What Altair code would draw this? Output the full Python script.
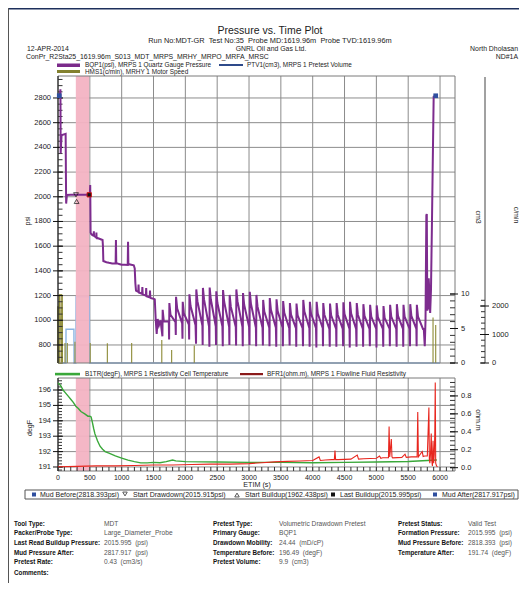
import altair as alt
import pandas as pd

W, H = 511, 575
FONT = "Liberation Sans"

# plot boxes in chart pixels (layout only)
L, R = 50, 447
TT, TB = 68, 355      # top panel
BT, BB = 370, 463     # bottom panel

# ---------------- data ----------------
# BQP1 quartz gauge pressure (psi) - first part of the test
pre_t = [0, 15, 30, 38, 42, 48, 55, 62, 120, 124, 128, 140, 200, 280, 350, 490,
         500, 506, 512, 520, 540, 560, 563, 566, 600, 603, 606, 650, 700, 706, 712, 760,
         800, 850, 905, 910, 915, 960, 1000, 1050, 1095, 1100, 1105, 1150, 1190, 1205,
         1215, 1225, 1260, 1265, 1270, 1320, 1325, 1330, 1380, 1385, 1390, 1440, 1445,
         1450, 1500, 1520, 1535, 1550, 1565, 1585, 1610]
pre_p = [2818, 2820, 2830, 2870, 2350, 2420, 2490, 2500, 2510, 2200, 1945, 2015, 2016, 2016, 2016, 2016,
         2020, 2095, 1710, 1700, 1690, 1685, 1720, 1685, 1670, 1710, 1668, 1660, 1650, 1600, 1480, 1470,
         1465, 1460, 1460, 1650, 1465, 1455, 1450, 1450, 1448, 1635, 1455, 1450, 1445, 1420,
         1300, 1240, 1230, 1290, 1225, 1215, 1270, 1210, 1200, 1260, 1195, 1185, 1240,
         1180, 1175, 1170, 1000, 890, 1010, 960, 1000]
# repeated pretest cycles: start time, minimum, peak, level before next drop
cyc_t = [1640, 1745, 1850, 1955, 2060, 2168, 2272, 2378, 2482, 2588, 2692, 2797, 2902,
         3008, 3112, 3218, 3322, 3428, 3532, 3638, 3742, 3848, 3952, 4058, 4162, 4268,
         4372, 4478, 4582, 4688, 4792, 4898, 5002, 5108, 5212, 5318, 5422, 5528, 5632]
cyc_min = [870, 845, 880, 850, 845, 810, 800, 785, 800, 790, 800, 795, 790,
           800, 790, 795, 790, 785, 790, 795, 785, 790, 785, 780, 790, 785,
           785, 790, 780, 785, 785, 790, 780, 785, 790, 785, 785, 790, 790]
cyc_peak = [1085, 1140, 1190, 1150, 1210, 1250, 1262, 1265, 1235, 1245, 1205, 1250, 1220,
            1230, 1205, 1165, 1180, 1170, 1155, 1140, 1135, 1165, 1150, 1150, 1140, 1135,
            1140, 1145, 1150, 1140, 1130, 1125, 1120, 1115, 1125, 1130, 1125, 1130, 1125]
cyc_low = [990, 985, 975, 965, 960, 955, 950, 950, 950, 945, 945, 945, 945,
           940, 940, 940, 940, 940, 935, 935, 935, 935, 935, 935, 930, 930,
           930, 930, 930, 930, 930, 930, 930, 930, 930, 930, 930, 930, 930]
end_t = [5745, 5760, 5772, 5785, 5792, 5800, 5815, 5822, 5835, 5845, 5858, 5872, 5885, 5900, 5935]
end_p = [930, 790, 1000, 1850, 1860, 1080, 1100, 1340, 1200, 1060, 1250, 1750, 2250, 2810, 2818]

# PTV1 pretest volume (cm3)
ptv_t = [0, 124, 126, 250, 252, 280, 284, 492, 496, 6000]
ptv_v = [0, 0, 4.9, 4.9, 0, 0, 9.6, 9.6, 0, 0]

# HMS1 motor speed (c/min): block at start and spikes
hmsa_t = [0, 3, 20, 22, 64, 67]
hmsa_v = [0, 1980, 1980, 2390, 2390, 0]
hms_t = [63, 110, 146, 267, 505, 775, 1157, 1630, 1785, 2140, 5890, 5932]
hms_v = [1960, 700, 700, 750, 700, 690, 700, 810, 460, 610, 1600, 1330]

# B1TR resistivity cell temperature (degF)
temp_t = [0, 40, 80, 120, 160, 200, 240, 280, 320, 360, 420, 470, 500, 520, 540,
          560, 580, 620, 660, 700, 740, 800, 900, 1000, 1100, 1200, 1300, 1400, 1500,
          1600, 1700, 1800, 1850, 2000, 2500, 3000, 3500, 4000, 4500, 5000, 5500, 5800, 5950]
temp_v = [196.45, 196.3, 196.0, 195.8, 195.6, 195.4, 195.2, 194.95, 194.8, 194.6, 194.45,
          194.3, 194.3, 194.25, 193.9, 193.5, 193.15, 192.7, 192.35, 192.15, 192.0, 191.9,
          191.72, 191.58, 191.45, 191.35, 191.27, 191.27, 191.3, 191.28, 191.35, 191.45,
          191.4, 191.35, 191.32, 191.3, 191.3, 191.28, 191.3, 191.32, 191.36, 191.42, 191.45]

# BFR1 flowline fluid resistivity (ohm.m)
res_t = [0, 300, 600, 900, 1200, 1500, 1800, 2100, 2400, 2700, 3000, 3200, 3400, 3600,
         3800, 4000, 4100, 4120, 4200, 4300, 4340, 4350, 4360, 4400, 4600, 4700, 4720,
         4800, 5000, 5050, 5070, 5100, 5190, 5200, 5210, 5235, 5245, 5255, 5400, 5450,
         5470, 5550, 5640, 5650, 5660, 5720, 5735, 5760, 5800, 5825, 5832, 5840, 5850,
         5862, 5870, 5880, 5890, 5900, 5910, 5918, 5925, 5932, 5945, 5960]
res_v = [0.01, 0.015, 0.02, 0.02, 0.025, 0.03, 0.03, 0.035, 0.04, 0.04, 0.045, 0.055,
         0.065, 0.07, 0.075, 0.08, 0.12, 0.08, 0.085, 0.09, 0.09, 0.19, 0.09, 0.09, 0.095,
         0.14, 0.095, 0.1, 0.105, 0.13, 0.105, 0.11, 0.11, 0.46, 0.12, 0.32, 0.12, 0.11,
         0.115, 0.15, 0.115, 0.12, 0.12, 0.62, 0.12, 0.18, 0.125, 0.13, 0.13, 0.67, 0.1,
         0.05, 0.15, 0.38, 0.08, 0.02, 0.3, 0.05, 0.15, 0.4, 0.95, 0.05, 0.02, 0.01]

# pretest event markers
mk_name = ["Mud Before", "Start Drawdown", "Start Buildup", "Last Buildup", "Mud After"]
mk_t = [20, 283, 292, 490, 5932]
mk_p = [2818.393, 2015.915, 1962.438, 2015.995, 2817.917]

band_t0 = [280]
band_t1 = [490]

# axis ticks
t_grid = list(range(500, 6001, 500))
t_minor = list(range(0, 6201, 100))
psi_major = list(range(800, 2801, 200))
psi_minor = list(range(700, 2951, 50))
degf_major = [191, 192, 193, 194, 195, 196]
degf_minor = [190.8 + 0.2 * i for i in range(30)]
cm3_major = [0, 5, 10]
cm3_minor = list(range(0, 11))
cmin_major = [0, 1000, 2000]
cmin_minor = list(range(0, 2201, 200))
ohm_major = [0.0, 0.2, 0.4, 0.6, 0.8]
ohm_minor = [0.05 * i for i in range(20)]

# ---------------- scales ----------------
XS = alt.Scale(domain=[0, 6235], range=[L, R], nice=False, zero=False)
PSI = alt.Scale(domain=[654, 2978], range=[TB, TT], nice=False, zero=False)
CM3 = alt.Scale(domain=[0, 10], range=[TB, 286], nice=False, zero=False)
CMIN = alt.Scale(domain=[0, 2000], range=[TB, 298], nice=False, zero=False)
DEGF = alt.Scale(domain=[190.74, 196.78], range=[BB, BT], nice=False, zero=False)
OHM = alt.Scale(domain=[-0.037, 1.0], range=[BB, BT], nice=False, zero=False)

ONE = pd.DataFrame({"k": [0]})


def xq(f="t"):
    return alt.X(f"{f}:Q", scale=XS, axis=None)


def yq(f, s):
    return alt.Y(f"{f}:Q", scale=s, axis=None)


def fixed_rule(x1, y1, x2, y2, color, w=1.0):
    return alt.Chart(ONE).mark_rule(color=color, strokeWidth=w).encode(
        x=alt.value(x1), y=alt.value(y1), x2=alt.value(x2), y2=alt.value(y2))


def fixed_rect(x1, y1, x2, y2, fill, opacity=1.0):
    return alt.Chart(ONE).mark_rect(color=fill, opacity=opacity).encode(
        x=alt.value(x1), y=alt.value(y1), x2=alt.value(x2), y2=alt.value(y2))


def frame(x1, y1, x2, y2, color):
    return alt.Chart(ONE).mark_rect(fillOpacity=0, stroke=color, strokeWidth=1).encode(
        x=alt.value(x1), y=alt.value(y1), x2=alt.value(x2), y2=alt.value(y2))


def text_layer(rows, align="left", weight="normal", color="#000", angle=0):
    df = pd.DataFrame(rows, columns=["s", "px", "py", "fs"])
    return alt.Chart(df).mark_text(align=align, baseline="middle", font=FONT,
                                   fontWeight=weight, color=color, angle=angle).encode(
        x=alt.X("px:Q", scale=None, axis=None),
        y=alt.Y("py:Q", scale=None, axis=None),
        text="s:N",
        size=alt.Size("fs:Q", scale=None, legend=None))


def vticks(vals, scale, x1, x2, color="#000"):
    df = pd.DataFrame({"v": vals})
    return alt.Chart(df).mark_rule(color=color, strokeWidth=1).encode(
        y=yq("v", scale), x=alt.value(x1), x2=alt.value(x2))


def vlabels(vals, labels, scale, x, align):
    df = pd.DataFrame({"v": vals, "s": labels})
    return alt.Chart(df).mark_text(align=align, baseline="middle", font=FONT, fontSize=7.5,
                                   color="#222").encode(
        y=yq("v", scale), x=alt.value(x), text="s:N")


layers = []

# page border
layers.append(fixed_rect(0, 0, W, 1.5, "#1d2f5c"))
layers.append(fixed_rule(0.5, 0, 0.5, H, "#555"))

# grids
GRID = "#8c8c8c"
gt = pd.DataFrame({"t": t_grid})
layers.append(alt.Chart(gt).mark_rule(color=GRID, strokeWidth=1).encode(
    x=xq(), y=alt.value(TT), y2=alt.value(TB)))
layers.append(alt.Chart(gt).mark_rule(color=GRID, strokeWidth=1).encode(
    x=xq(), y=alt.value(BT), y2=alt.value(BB)))
layers.append(alt.Chart(pd.DataFrame({"v": psi_major})).mark_rule(color=GRID, strokeWidth=1).encode(
    y=yq("v", PSI), x=alt.value(L), x2=alt.value(R)))
layers.append(alt.Chart(pd.DataFrame({"v": degf_major})).mark_rule(color=GRID, strokeWidth=1).encode(
    y=yq("v", DEGF), x=alt.value(L), x2=alt.value(R)))

# pretest volume
ptv = pd.DataFrame({"t": ptv_t, "v": ptv_v, "i": range(len(ptv_t))})
layers.append(alt.Chart(ptv).mark_line(color="#8ab4e2", strokeWidth=1.4).encode(
    x=xq(), y=yq("v", CM3), order="i:Q"))

# motor speed
hmsa = pd.DataFrame({"t": hmsa_t, "v": hmsa_v, "i": range(len(hmsa_t))})
layers.append(alt.Chart(hmsa).mark_area(color="#cfc6a3", stroke="#8c8a35", strokeWidth=0.8,
                                        opacity=1).encode(
    x=xq(), y=yq("v", CMIN), y2=alt.value(TB), order="i:Q"))
hms = pd.DataFrame({"t": hms_t, "v": hms_v})
layers.append(alt.Chart(hms).mark_rule(color="#8c8a35", strokeWidth=1.1).encode(
    x=xq(), y=yq("v", CMIN), y2=alt.value(TB)))

# pretest band
band = pd.DataFrame({"t0": band_t0, "t1": band_t1})
for y1, y2 in [(TT, TB), (BT, BB)]:
    layers.append(alt.Chart(band).mark_rect(color="#f3b3c3", opacity=0.95).encode(
        x=alt.X("t0:Q", scale=XS, axis=None), x2="t1:Q", y=alt.value(y1), y2=alt.value(y2)))

# frames and axis lines
layers.append(frame(L, TT, R, TB, "#7a7a7a"))
layers.append(frame(L, BT, R, BB, "#7a7a7a"))
layers.append(fixed_rule(L, TT, L, TB, "#111"))
layers.append(fixed_rule(L, BT, L, BB, "#111"))
layers.append(fixed_rule(477, TT + 1, 477, TB, "#444"))

# left axes ticks / labels
layers.append(vticks(psi_minor, PSI, L, L + 4.5, "#333"))
layers.append(vticks(psi_major, PSI, L - 5, L + 5, "#111"))
layers.append(vlabels(psi_major, [str(v) for v in psi_major], PSI, L - 7, "right"))
layers.append(vticks(degf_minor, DEGF, L, L + 4, "#333"))
layers.append(vticks(degf_major, DEGF, L - 5, L + 5, "#111"))
layers.append(vlabels(degf_major, [str(v) for v in degf_major], DEGF, L - 7, "right"))

# right axes
layers.append(vticks(cm3_minor, CM3, R - 5, R, "#333"))
layers.append(vticks(cm3_major, CM3, R - 5, R + 3, "#111"))
layers.append(vlabels(cm3_major, [str(v) for v in cm3_major], CM3, R + 6, "left"))
layers.append(vticks(cmin_minor, CMIN, 473, 477, "#333"))
layers.append(vticks(cmin_major, CMIN, 472, 481, "#111"))
layers.append(vlabels(cmin_major, [str(v) for v in cmin_major], CMIN, 484, "left"))
layers.append(vticks(ohm_minor, OHM, R - 5, R, "#333"))
layers.append(vticks(ohm_major, OHM, R - 5, R + 3, "#111"))
layers.append(vlabels(ohm_major, [f"{v:.1f}" for v in ohm_major], OHM, R + 6, "left"))

# bottom x axis
layers.append(alt.Chart(pd.DataFrame({"t": t_minor})).mark_rule(color="#333", strokeWidth=1).encode(
    x=xq(), y=alt.value(BB - 4), y2=alt.value(BB)))
xl = pd.DataFrame({"t": [0] + t_grid, "s": [str(v) for v in [0] + t_grid]})
layers.append(alt.Chart(xl).mark_text(align="center", baseline="middle", font=FONT, fontSize=7,
                                      color="#222").encode(x=xq(), y=alt.value(BB + 6.5), text="s:N"))

# pressure line
rows = list(zip(pre_t, pre_p))
for t0, mn, pk, lo in zip(cyc_t, cyc_min, cyc_peak, cyc_low):
    rows += [(t0, mn), (t0 + 4, pk), (t0 + 22, pk - 95), (t0 + 100, lo)]
rows += list(zip(end_t, end_p))
bqp = pd.DataFrame(rows, columns=["t", "p"])
bqp["i"] = range(len(bqp))
layers.append(alt.Chart(bqp).mark_line(color="#7d2c8e", strokeWidth=2).encode(
    x=xq(), y=yq("p", PSI), order="i:Q"))

# temperature and resistivity
tdf = pd.DataFrame({"t": temp_t, "v": temp_v})
layers.append(alt.Chart(tdf).mark_line(color="#3aa83a", strokeWidth=1.4).encode(
    x=xq(), y=yq("v", DEGF)))
rdf = pd.DataFrame({"t": res_t, "v": res_v, "i": range(len(res_t))})
layers.append(alt.Chart(rdf).mark_line(color="#e8261e", strokeWidth=1.1).encode(
    x=xq(), y=yq("v", OHM), order="i:Q"))

# event markers on the plot
mk = pd.DataFrame({"n": mk_name, "t": mk_t, "p": mk_p})
layers.append(alt.Chart(mk[mk.n.isin(["Mud Before", "Mud After"])]).mark_square(
    color="#2f4f9f", size=22, opacity=1).encode(x=xq(), y=yq("p", PSI)))
layers.append(alt.Chart(mk[mk.n == "Start Drawdown"]).mark_point(
    shape="triangle-down", filled=False, color="#111", size=24, strokeWidth=1).encode(
    x=xq(), y=yq("p", PSI)))
layers.append(alt.Chart(mk[mk.n == "Start Buildup"]).mark_point(
    shape="triangle-up", filled=False, color="#111", size=24, strokeWidth=1).encode(
    x=xq(), y=yq("p", PSI)))
layers.append(alt.Chart(mk[mk.n == "Last Buildup"]).mark_square(
    color="#111", stroke="#d01010", strokeWidth=1, size=18, opacity=1).encode(
    x=xq(), y=yq("p", PSI)))

# ---------------- header / legends / texts ----------------
SP = "\u00a0\u00a0"
layers.append(text_layer([
    ("Pressure vs. Time Plot", 262, 23, 10.5),
    (f"Run No:MDT-GR{SP}Test No:35{SP}Probe MD:1619.96m{SP}Probe TVD:1619.96m", 262, 32.5, 7.4),
    ("GNRL Oil and Gas Ltd.", 263, 40.8, 6.9),
    ("ETIM (s)", 249, 476.5, 7.2),
], align="center", color="#222"))
layers.append(text_layer([
    ("12-APR-2014", 19, 40.8, 6.9),
    ("ConPr_R2Sta25_1619.96m_S013_MDT_MRPS_MRHY_MRPO_MRFA_MRSC", 18, 48.6, 6.9),
    ("BQP1(psi), MRPS 1 Quartz Gauge Pressure", 77, 57, 6.4),
    ("PTV1(cm3), MRPS 1 Pretest Volume", 239, 57, 6.4),
    ("HMS1(c/min), MRHY 1 Motor Speed", 77, 63.5, 6.4),
    ("B1TR(degF), MRPS 1 Resistivity Cell Temperature", 77, 366, 6.4),
    ("BFR1(ohm.m), MRPS 1 Flowline Fluid Resistivity", 259, 366, 6.4),
    ("Mud Before(2818.393psi)", 32, 486.5, 7),
    ("Start Drawdown(2015.915psi)", 125, 486.5, 7),
    ("Start Buildup(1962.438psi)", 237, 486.5, 7),
    ("Last Buildup(2015.995psi)", 332, 486.5, 7),
    ("Mud After(2817.917psi)", 434, 486.5, 7),
], align="left", color="#222"))
layers.append(text_layer([
    ("North Dholasan", 510, 40.8, 6.9),
    ("ND#1A", 510, 48.6, 6.9),
], align="right", color="#222"))
layers.append(text_layer([
    ("psi", 20, 213, 7), ("degF", 22, 420, 7)], align="center", color="#222", angle=270))
layers.append(text_layer([
    ("cm3", 470, 209, 7), ("c/min", 508, 207, 7), ("ohm.m", 470, 412, 7)],
    align="center", color="#222", angle=90))

# legend swatches
layers.append(fixed_rect(49, 55.5, 72, 59, "#7b2a8a"))
layers.append(fixed_rule(211, 57, 235, 57, "#2e4a8a", 2))
layers.append(fixed_rect(49, 62, 72, 65, "#83812f"))
layers.append(fixed_rect(47, 364.8, 72, 367.4, "#3aa83a"))
layers.append(fixed_rect(232, 365, 255, 367.2, "#8b1a1a"))

# marker legend box
layers.append(frame(17, 482, 510, 491, "#555"))
lg = pd.DataFrame({"px": [26, 427], "py": [486.5, 486.5]})
layers.append(alt.Chart(lg).mark_square(color="#2f4f9f", size=16, opacity=1).encode(
    x=alt.X("px:Q", scale=None, axis=None), y=alt.Y("py:Q", scale=None, axis=None)))
layers.append(alt.Chart(ONE).mark_point(shape="triangle-down", filled=False, color="#111",
                                        size=20, strokeWidth=1).encode(x=alt.value(117), y=alt.value(486)))
layers.append(alt.Chart(ONE).mark_point(shape="triangle-up", filled=False, color="#111",
                                        size=20, strokeWidth=1).encode(x=alt.value(229), y=alt.value(487)))
layers.append(alt.Chart(ONE).mark_square(color="#111", size=16, opacity=1).encode(
    x=alt.value(325), y=alt.value(486.5)))

# info table
tbl_labels1 = ["Tool Type:", "Packer/Probe Type:", "Last Read Buildup Pressure:", "Mud Pressure After:", "Pretest Rate:"]
tbl_values1 = ["MDT", "Large_Diameter_Probe", "2015.995  (psi)", "2817.917  (psi)", "0.43  (cm3/s)"]
tbl_labels2 = ["Pretest Type:", "Primary Gauge:", "Drawdown Mobility:", "Temperature Before:", "Pretest Volume:"]
tbl_values2 = ["Volumetric Drawdown Pretest", "BQP1", "24.44  (mD/cP)", "196.49  (degF)", "9.9  (cm3)"]
tbl_labels3 = ["Pretest Status:", "Formation Pressure:", "Mud Pressure Before:", "Temperature After:"]
tbl_values3 = ["Valid Test", "2015.995  (psi)", "2818.393  (psi)", "191.74  (degF)"]
row_y = [515.5, 525.3, 535, 544.6, 554.2]

bold_rows = []
val_rows = []
for labs, vals, lx, vx in [(tbl_labels1, tbl_values1, 6, 96), (tbl_labels2, tbl_values2, 205, 271),
                           (tbl_labels3, tbl_values3, 390, 460)]:
    for s, v, y in zip(labs, vals, row_y):
        bold_rows.append((s, lx, y, 6.3))
        val_rows.append((v.replace("  ", "\u00a0\u00a0"), vx, y, 6.6))
bold_rows.append(("Comments:", 6, 565, 6.3))
layers.append(text_layer(bold_rows, align="left", weight="bold", color="#111"))
layers.append(text_layer(val_rows, align="left", color="#555"))

chart = alt.layer(*layers).resolve_scale(x="independent", y="independent").properties(
    width=W, height=H, autosize=alt.AutoSizeParams(type="none"), padding=0
).configure_view(strokeWidth=0)

chart.save("out.html", embed_options={"renderer": "svg", "actions": False})
